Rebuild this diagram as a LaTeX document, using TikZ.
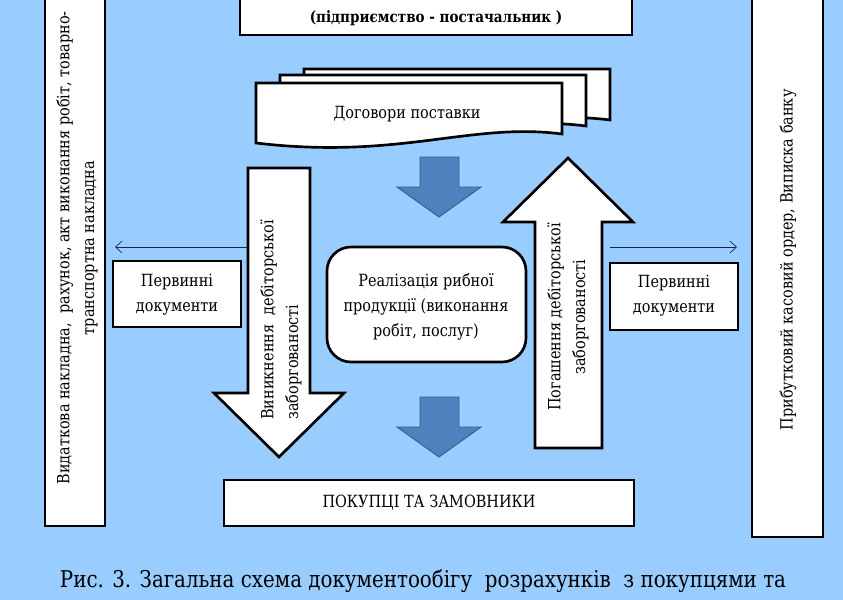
\documentclass[tikz,border=0pt]{standalone}
\usepackage{fontspec}
\setmainfont{DejaVu Serif}
\newfontfamily\tnr{DejaVu Serif}[FakeStretch=0.86]
\usetikzlibrary{arrows.meta}
\definecolor{bgblue}{RGB}{153,204,255}
\definecolor{arrblue}{RGB}{79,129,189}
\definecolor{arredge}{RGB}{56,93,138}
\definecolor{navy}{RGB}{25,35,80}
\begin{document}
\begin{tikzpicture}[x=0.75pt,y=-0.75pt,
    box/.style={draw=black,line width=2pt,fill=white,line join=miter},
    txt/.style={font=\tnr\fontsize{12.6}{18.5}\selectfont,align=center,inner sep=0pt},
    bluearrow/.style={fill=arrblue,draw=arredge,line width=0.7pt},
    thinarrow/.style={-{Straight Barb[length=5pt,width=9pt]},navy,line width=0.5pt}]
    \fill[bgblue] (0,0) rectangle (843,600);
    \clip (0,0) rectangle (843,600);
    % side and top boxes
    \draw[box] (45,-10) rectangle (105,526);
    \draw[box] (752,-10) rectangle (823,537);
    \draw[box] (240,-10) rectangle (632,35);
    \node[txt,font=\tnr\fontsize{11.8}{18.5}\selectfont\bfseries] (supplier) at (436,18) {(підприємство - постачальник )};
    % contracts
    \foreach \dx/\dy in {48/-14,24/-8,0/0}
        \draw[box] (256+\dx,83+\dy) -- (562+\dx,83+\dy) -- (562+\dx,134+\dy)
            .. controls (470+\dx,122+\dy) and (400+\dx,160+\dy) .. (256+\dx,143+\dy) -- cycle;
    \node[txt] (contracts) at (407,114) {Договори поставки};
    % blue arrows
    \foreach \y in {157,397}
        \draw[bluearrow] (420,\y) -- (459,\y) -- (459,\y+30) -- (481,\y+30) -- (439,\y+60)
            -- (397,\y+30) -- (420,\y+30) -- cycle;
    % big arrows
    \draw[box] (248,168) -- (310,168) -- (310,393) -- (344,393) -- (279,457) -- (214,393) -- (248,393) -- cycle;
    \draw[box] (535,448) -- (602,448) -- (602,222) -- (633,222) -- (568,158) -- (503,222) -- (535,222) -- cycle;
    \node[txt,rotate=90,align=left] (arise) at (281,320) {Виникнення\ \ дебіторської\\заборгованості};
    \node[txt,rotate=90] (repay) at (568,317) {Погашення дебіторської\\заборгованості};
    % centre and small boxes
    \draw[box,rounded corners=18] (327,247) rectangle (526,362);
    \node[txt,font=\tnr\fontsize{12.6}{19}\selectfont] (sale) at (426,307) {Реалізація рибної\\продукції (виконання\\робіт, послуг)};
    \draw[box] (113,261) rectangle (241,327);
    \node[txt] (prim1) at (177,295) {Первинні\\документи};
    \draw[box] (610,263) rectangle (738,330);
    \node[txt] (prim2) at (674,296) {Первинні\\документи};
    \draw[box] (224,480) rectangle (634,526);
    \node[txt] (buyers) at (429,503) {ПОКУПЦІ ТА ЗАМОВНИКИ};
    % side texts
    \node[txt] (invoices) [rotate=90] at (77,248) {Видаткова накладна,\ \ рахунок, акт виконання робіт, товарно-\\транспортна накладна};
    \node[txt] (receipts) [rotate=90] at (788,260) {Прибутковий касовий ордер, Виписка банку};
    % thin arrows
    \coordinate (dnout) at (247,247);
    \coordinate (leftin) at (115,247);
    \coordinate (upout) at (610,247);
    \coordinate (rightin) at (737,247);
    \draw[thinarrow] (dnout) -- (leftin);
    \draw[thinarrow] (upout) -- (rightin);
    % caption
    \node[txt,font=\tnr\fontsize{17.3}{22}\selectfont] (caption) at (423,581) {Рис. 3. Загальна схема документообігу\ \ розрахунків\ \ з покупцями та};
\end{tikzpicture}
\end{document}
